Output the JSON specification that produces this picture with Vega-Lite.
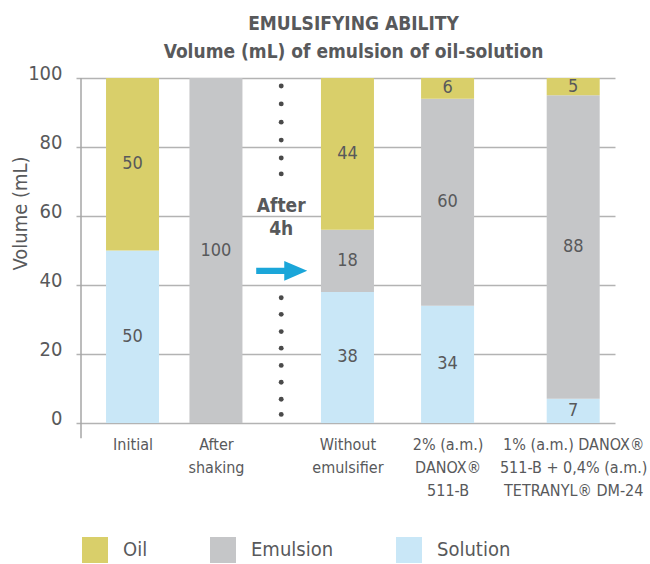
{
  "$schema": "https://vega.github.io/schema/vega-lite/v6.json",
  "width": 539,
  "height": 345,
  "autosize": {"type": "none"},
  "padding": {"left": 76, "top": 78, "right": 35, "bottom": 141},
  "background": "white",
  "config": {
    "font": "'Liberation Sans Narrow', 'DejaVu Sans Condensed', sans-serif",
    "view": {"stroke": null},
    "axisY": {
      "grid": true, "gridColor": "#b3b3b3", "gridWidth": 1.6,
      "domain": false, "ticks": false,
      "labelFontSize": 20, "labelColor": "#58595b", "labelPadding": 14, "labelOffset": -5,
      "titleFontSize": 20, "titleFontWeight": "normal", "titleColor": "#58595b",
      "titleY": 135, "titleX": -46
    },
    "axisX": {
      "grid": false, "ticks": false, "domain": false,
      "labelFontSize": 16, "labelColor": "#58595b", "labelLineHeight": 23,
      "labelPadding": 13, "labelBaseline": "top",
      "labelOverlap": false, "labelBound": false, "labelFlush": false
    },
    "legend": {
      "symbolStrokeWidth": 0, "symbolOpacity": 1,
      "labelFontSize": 20, "labelColor": "#58595b"
    }
  },
  "title": {
    "text": ["EMULSIFYING ABILITY", "Volume (mL) of emulsion of oil-solution"],
    "anchor": "middle",
    "frame": "group",
    "fontSize": 19,
    "fontWeight": "bold",
    "color": "#58595b",
    "lineHeight": 28,
    "offset": 1,
    "dx": 8
  },
  "datasets": {
    "bars": [
      {"category": "Initial", "pos": 52.5, "component": "Solution", "ord": 1, "value": 50},
      {"category": "Initial", "pos": 52.5, "component": "Oil", "ord": 3, "value": 50},
      {"category": "After shaking", "pos": 137.5, "component": "Emulsion", "ord": 2, "value": 100},
      {"category": "Without emulsifier", "pos": 271.5, "component": "Solution", "ord": 1, "value": 38},
      {"category": "Without emulsifier", "pos": 271.5, "component": "Emulsion", "ord": 2, "value": 18},
      {"category": "Without emulsifier", "pos": 271.5, "component": "Oil", "ord": 3, "value": 44},
      {"category": "2% DANOX 511-B", "pos": 373.5, "component": "Solution", "ord": 1, "value": 34},
      {"category": "2% DANOX 511-B", "pos": 373.5, "component": "Emulsion", "ord": 2, "value": 60},
      {"category": "2% DANOX 511-B", "pos": 373.5, "component": "Oil", "ord": 3, "value": 6},
      {"category": "1% DANOX + 0.4% TETRANYL", "pos": 501.5, "component": "Solution", "ord": 1, "value": 7},
      {"category": "1% DANOX + 0.4% TETRANYL", "pos": 501.5, "component": "Emulsion", "ord": 2, "value": 88},
      {"category": "1% DANOX + 0.4% TETRANYL", "pos": 501.5, "component": "Oil", "ord": 3, "value": 5}
    ],
    "dots": [
      {"pos": 204, "value": 97.7}, {"pos": 204, "value": 92.5}, {"pos": 204, "value": 87.2},
      {"pos": 204, "value": 82.0}, {"pos": 204, "value": 76.8}, {"pos": 204, "value": 72.2},
      {"pos": 204, "value": 36.3}, {"pos": 204, "value": 31.5}, {"pos": 204, "value": 26.5},
      {"pos": 204, "value": 21.7}, {"pos": 204, "value": 16.7}, {"pos": 204, "value": 11.8},
      {"pos": 204, "value": 6.9}, {"pos": 204, "value": 2.5}
    ],
    "note": [
      {"pos": 204, "value": 63.0, "label": "After"},
      {"pos": 204, "value": 56.2, "label": "4h"}
    ],
    "arrow": [{"pos": 204.5, "value": 44.1}],
    "axisline": [{"pos": 0, "value": 100, "value2": -4.4}]
  },
  "layer": [
    {
      "data": {"name": "bars"},
      "mark": {"type": "bar", "size": 53},
      "encoding": {
        "x": {
          "field": "pos", "type": "quantitative", "scale": {"domain": [0, 539], "nice": false, "zero": false}, "title": null,
          "axis": {
            "values": [52.5, 137.5, 271.5, 373.5, 501.5],
            "labelExpr": "datum.value == 52.5 ? 'Initial' : datum.value == 137.5 ? ['After', 'shaking'] : datum.value == 271.5 ? ['Without', 'emulsifier'] : datum.value == 373.5 ? ['2% (a.m.)', 'DANOX®', '511-B'] : ['1% (a.m.) DANOX®', '511-B + 0,4% (a.m.)', 'TETRANYL® DM-24']"
          }
        },
        "y": {
          "field": "value", "type": "quantitative", "stack": "zero", "scale": {"domain": [0, 100], "nice": false},
          "title": "Volume (mL)",
          "axis": {
            "values": [0, 10, 20, 30, 40, 50, 60, 70, 80, 90, 100],
            "labelExpr": "datum.value % 20 == 0 ? datum.label : ''"
          }
        },
        "color": {
          "field": "component", "type": "nominal",
          "scale": {"domain": ["Oil", "Emulsion", "Solution"], "range": ["#d9cf6a", "#c5c6c8", "#c9e7f7"]},
          "legend": {
            "orient": "none", "legendX": 6, "legendY": 459, "direction": "horizontal", "columns": 3,
            "title": null, "symbolType": "square", "symbolSize": 676,
            "labelOffset": 15, "columnPadding": 62, "padding": 0
          }
        },
        "order": {"field": "ord", "type": "quantitative"}
      }
    },
    {
      "data": {"name": "axisline"},
      "mark": {"type": "rule", "color": "#a6a6a6", "strokeWidth": 1.5},
      "encoding": {
        "x": {"field": "pos", "type": "quantitative", "title": null},
        "y": {"field": "value", "type": "quantitative", "title": "Volume (mL)"},
        "y2": {"field": "value2"}
      }
    },
    {
      "data": {"name": "bars"},
      "mark": {"type": "text", "fontSize": 18, "color": "#58595b", "baseline": "middle"},
      "encoding": {
        "x": {"field": "pos", "type": "quantitative", "title": null},
        "y": {"field": "value", "type": "quantitative", "stack": "zero", "bandPosition": 0.5, "title": "Volume (mL)"},
        "detail": {"field": "component"},
        "order": {"field": "ord", "type": "quantitative"},
        "text": {"field": "value", "type": "quantitative"}
      }
    },
    {
      "data": {"name": "dots"},
      "mark": {"type": "point", "shape": "circle", "filled": true, "size": 24, "color": "#4a4a4a", "opacity": 1},
      "encoding": {
        "x": {"field": "pos", "type": "quantitative", "title": null},
        "y": {"field": "value", "type": "quantitative", "title": "Volume (mL)"}
      }
    },
    {
      "data": {"name": "note"},
      "mark": {"type": "text", "fontSize": 19, "fontWeight": "bold", "color": "#58595b", "baseline": "middle"},
      "encoding": {
        "x": {"field": "pos", "type": "quantitative", "title": null},
        "y": {"field": "value", "type": "quantitative", "title": "Volume (mL)"},
        "text": {"field": "label"}
      }
    },
    {
      "data": {"name": "arrow"},
      "mark": {
        "type": "point", "filled": true, "opacity": 1, "color": "#1ba6d9", "size": 2601,
        "shape": "M-1,-0.12L0.1,-0.12L0.1,-0.39L1,0L0.1,0.39L0.1,0.12L-1,0.12Z"
      },
      "encoding": {
        "x": {"field": "pos", "type": "quantitative", "title": null},
        "y": {"field": "value", "type": "quantitative", "title": "Volume (mL)"}
      }
    }
  ]
}
